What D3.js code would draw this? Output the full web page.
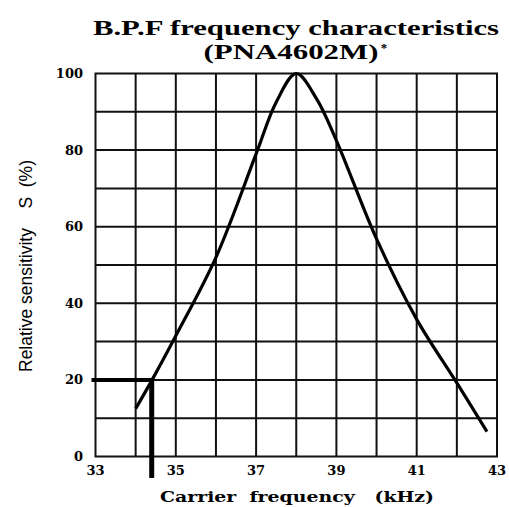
<!DOCTYPE html>
<html>
<head>
    <meta charset='utf-8'>
    <title>B.P.F frequency characteristics</title>
    <script src='https://d3js.org/d3.v7.min.js'></script>
    <style>
        body { margin: 0; background: #fff; }
    </style>
</head>
<body>
<div id='chart'></div>
<script type='text/javascript'>
    // curve values
    const freq = [34.0, 34.41, 35, 36, 37, 37.5, 38, 38.5, 39, 40, 41, 42, 42.75];
    const sens = [12.5, 20, 31.5, 52, 79, 92.5, 100, 93.5, 82.5, 56.8, 35.8, 19.2, 6.5];

    // marker at 20 % sensitivity
    const markFreq = 34.4;
    const markSens = 20;

    const xTicks = [33, 35, 37, 39, 41, 43];
    const yTicks = [0, 20, 40, 60, 80, 100];
    const xGrid = d3.range(34, 43, 1);
    const yGrid = d3.range(10, 100, 10);

    const W = 509, H = 507;
    let margin = {top: 73.5, right: 12, bottom: 50.5, left: 95.5};
    let w = W - margin.left - margin.right;
    let h = H - margin.top - margin.bottom;

    let svg = d3.select('#chart')
            .append('svg')
                .attr('width', W)
                .attr('height', H);

    let g = svg.append('g')
            .attr('transform', `translate(${margin.left},${margin.top})`);

    let xScale = d3.scaleLinear().domain([33, 43]).range([0, w]);
    let yScale = d3.scaleLinear().domain([0, 100]).range([h, 0]);

    // grid
    g.selectAll('.vgrid')
        .data(xGrid)
        .enter()
        .append('line')
        .attr('x1', d => xScale(d))
        .attr('x2', d => xScale(d))
        .attr('y1', 0)
        .attr('y2', h)
        .attr('stroke', '#111')
        .attr('stroke-width', 2);

    g.selectAll('.hgrid')
        .data(yGrid)
        .enter()
        .append('line')
        .attr('x1', 0)
        .attr('x2', w)
        .attr('y1', d => yScale(d))
        .attr('y2', d => yScale(d))
        .attr('stroke', '#111')
        .attr('stroke-width', 2);

    g.append('rect')
        .attr('width', w)
        .attr('height', h)
        .attr('fill', 'none')
        .attr('stroke', '#111')
        .attr('stroke-width', 2);

    // tick labels
    g.selectAll('.ylab')
        .data(yTicks)
        .enter()
        .append('text')
        .attr('x', -12.5)
        .attr('y', d => yScale(d) + 4.5)
        .attr('text-anchor', 'end')
        .attr('font-family', 'DejaVu Serif, serif')
        .attr('font-weight', 'bold')
        .attr('font-size', '13px')
        .text(d => d);

    g.selectAll('.xlab')
        .data(xTicks)
        .enter()
        .append('text')
        .attr('x', d => xScale(d))
        .attr('y', h + 18.5)
        .attr('text-anchor', 'middle')
        .attr('font-family', 'DejaVu Serif, serif')
        .attr('font-weight', 'bold')
        .attr('font-size', '13px')
        .text(d => d);

    // curve
    let line = d3.line()
        .x((d, i) => xScale(freq[i]))
        .y(d => yScale(d))
        .curve(d3.curveCatmullRom.alpha(0.5));

    g.append('path')
        .datum(sens)
        .attr('d', line)
        .attr('fill', 'none')
        .attr('stroke', '#000')
        .attr('stroke-width', 3.2);

    // 20 % marker lines
    g.append('line')
        .attr('x1', -4)
        .attr('x2', xScale(markFreq))
        .attr('y1', yScale(markSens))
        .attr('y2', yScale(markSens))
        .attr('stroke', '#000')
        .attr('stroke-width', 4);

    g.append('line')
        .attr('x1', xScale(markFreq))
        .attr('x2', xScale(markFreq))
        .attr('y1', yScale(markSens) - 2)
        .attr('y2', yScale(-5.6))
        .attr('stroke', '#000')
        .attr('stroke-width', 5);

    // titles
    svg.append('text')
        .attr('x', 296)
        .attr('y', 35)
        .attr('text-anchor', 'middle')
        .attr('font-family', 'Liberation Serif, serif')
        .attr('font-weight', 'bold')
        .attr('font-size', '22px')
        .attr('textLength', 406)
        .attr('lengthAdjust', 'spacingAndGlyphs')
        .text('B.P.F frequency characteristics');

    svg.append('text')
        .attr('x', 291)
        .attr('y', 59)
        .attr('text-anchor', 'middle')
        .attr('font-family', 'Liberation Serif, serif')
        .attr('font-weight', 'bold')
        .attr('font-size', '22px')
        .attr('textLength', 175)
        .attr('lengthAdjust', 'spacingAndGlyphs')
        .text('(PNA4602M)');

    svg.append('text')
        .attr('x', 384)
        .attr('y', 52)
        .attr('text-anchor', 'middle')
        .attr('font-family', 'Liberation Serif, serif')
        .attr('font-weight', 'bold')
        .attr('font-size', '13px')
        .text('*');

    svg.append('text')
        .attr('x', 297)
        .attr('y', 502)
        .attr('text-anchor', 'middle')
        .attr('font-family', 'DejaVu Serif, serif')
        .attr('font-weight', 'bold')
        .attr('font-size', '15px')
        .attr('textLength', 274)
        .attr('lengthAdjust', 'spacingAndGlyphs')
        .style('white-space', 'pre')
        .text('Carrier  frequency   (kHz)');

    svg.append('text')
        .attr('transform', 'translate(32,266) rotate(-90)')
        .attr('text-anchor', 'middle')
        .attr('font-family', 'Liberation Sans, sans-serif')
        .attr('font-size', '19px')
        .attr('textLength', 212)
        .attr('lengthAdjust', 'spacingAndGlyphs')
        .style('white-space', 'pre')
        .text('Relative sensitivity    S  (%)');
</script>
</body>
</html>
